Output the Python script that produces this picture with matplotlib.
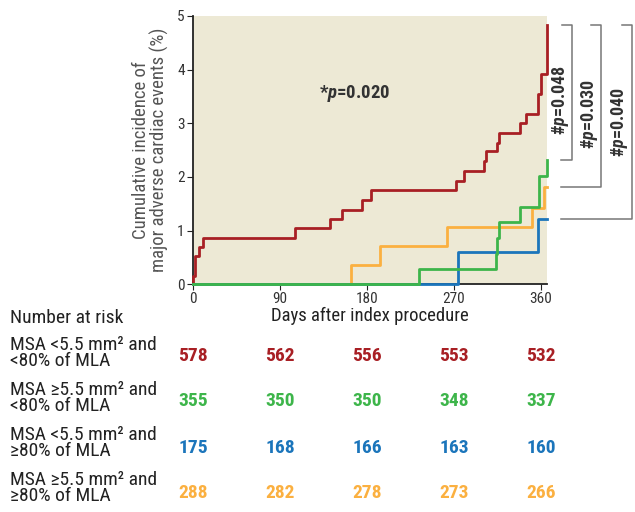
import matplotlib.pyplot as plt

plt.rcParams['font.family'] = ['Roboto Condensed', 'Barlow Semi Condensed', 'DejaVu Sans']
plt.rcParams['font.stretch'] = 'condensed'
plt.rcParams['mathtext.fontset'] = 'custom'
plt.rcParams['mathtext.it'] = 'Roboto Condensed:italic:bold'

# step curves (days, cumulative incidence %)
red_t = [0, 0, 2.4, 5.9, 10.3, 106, 142, 154, 175, 184, 272, 280, 301, 303, 315, 317, 338, 345, 356.5, 360, 366]
red_y = [0, 0.15, 0.53, 0.70, 0.86, 1.05, 1.22, 1.39, 1.56, 1.75, 1.93, 2.10, 2.29, 2.48, 2.63, 2.81, 3.00, 3.18, 3.55, 3.91, 4.83]
orange_t = [0, 163.6, 193, 262.5, 351, 363, 366]
orange_y = [0, 0.35, 0.71, 1.07, 1.42, 1.81, 1.81]
blue_t = [0, 274, 357, 366]
blue_y = [0, 0.60, 1.22, 1.22]
green_t = [0, 234, 313.5, 315, 317, 338, 358, 366]
green_y = [0, 0.28, 0.57, 0.86, 1.15, 1.43, 2.02, 2.32]

# number at risk
risk_days = [0, 90, 180, 270, 360]
risk_red = [578, 562, 556, 553, 532]
risk_green = [355, 350, 350, 348, 337]
risk_blue = [175, 168, 166, 163, 160]
risk_orange = [288, 282, 278, 273, 266]
row_labels = ["MSA <5.5 mm\u00b2 and\n<80% of MLA",
              "MSA \u22655.5 mm\u00b2 and\n<80% of MLA",
              "MSA <5.5 mm\u00b2 and\n\u226580% of MLA",
              "MSA \u22655.5 mm\u00b2 and\n\u226580% of MLA"]

# brackets: (top y, bottom y, label)
brackets = [(4.83, 2.32, "#$p$=0.048"),
            (4.83, 1.81, "#$p$=0.030"),
            (4.83, 1.22, "#$p$=0.040")]

RED = '#a81f24'
GREEN = '#3db54a'
BLUE = '#1b75bb'
ORANGE = '#fbb040'

fig = plt.figure(figsize=(6.35, 5.12), dpi=100)
ax = fig.add_axes([0.304, 0.445, 0.557, 0.524])
ax.set_facecolor('#ede9d5')

for t, y, c in [(red_t, red_y, RED), (orange_t, orange_y, ORANGE),
                (blue_t, blue_y, BLUE), (green_t, green_y, GREEN)]:
    ax.step(t, y, where='post', color=c, lw=2.0, clip_on=False, zorder=3)

ax.set_xlim(0, 366)
ax.set_ylim(0, 5)
ax.set_xticks([0, 90, 180, 270, 360])
ax.set_yticks([0, 1, 2, 3, 4, 5])
for s in ['top', 'right']:
    ax.spines[s].set_visible(False)
for s in ['left', 'bottom']:
    ax.spines[s].set_linewidth(1.3)
    ax.spines[s].set_color('#222222')
ax.tick_params(labelsize=11, length=4, color='#222222', labelcolor='#333333', pad=2)
ax.set_xlabel("Days after index procedure", fontsize=13.5, color='#222222', labelpad=0)
ax.set_ylabel("Cumulative incidence of\nmajor adverse cardiac events (%)",
              fontsize=13.5, color='#555555', linespacing=0.95, labelpad=6)

ax.text(167, 3.56, "*$p$=0.020", fontsize=13.5, fontweight='bold',
        ha='center', va='center', color='#333333')

# brackets to the right of the plot
xs = [(380.6, 392), (380.6, 422), (380.6, 454)]
text_x = [380.6, 410.6, 441.6]
text_y = [3.43, 3.18, 3.02]
for (top, bot, label), (x0, x1), tx, ty in zip(brackets, xs, text_x, text_y):
    ax.plot([x1 - 10, x1, x1, x0], [top, top, bot, bot], color='#777777',
            lw=1.1, clip_on=False)
    ax.text(tx, ty, label, rotation=90, fontsize=13, fontweight='bold',
            ha='center', va='center', color='#333333')

# number at risk table
fig.text(10 / 635, 1 - 318 / 512, "Number at risk", fontsize=14,
         ha='left', va='center', color='#222222')
row_y = [353, 398, 443, 488]
for lab, yy in zip(row_labels, row_y):
    fig.text(10 / 635, 1 - yy / 512, lab, fontsize=14, ha='left', va='center',
             linespacing=0.9, color='#222222')
for vals, c, yy in zip([risk_red, risk_green, risk_blue, risk_orange],
                       [RED, GREEN, BLUE, ORANGE], [356, 401, 448, 493]):
    for d, v in zip(risk_days, vals):
        xf = ax.transData.transform((d, 0))[0] / fig.bbox.width
        fig.text(xf, 1 - yy / 512, str(v), fontsize=14, fontweight='bold',
                 ha='center', va='center', color=c)

fig.savefig('out.png', dpi=100)
